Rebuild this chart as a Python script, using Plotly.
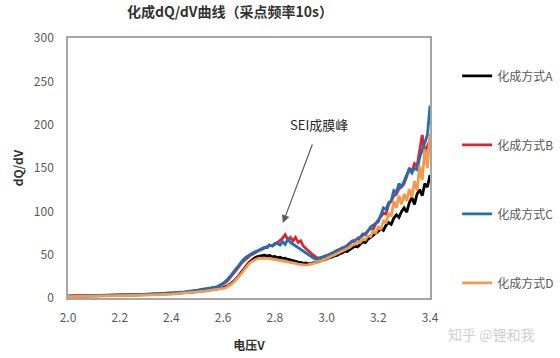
import plotly.graph_objects as go

# ---- data ----
voltage = [2.00, 2.10, 2.20, 2.30, 2.40, 2.45, 2.50, 2.53,
           2.56, 2.57, 2.58, 2.59, 2.60, 2.61, 2.62, 2.63, 2.64, 2.65,
           2.66, 2.67, 2.68, 2.69, 2.70, 2.71, 2.72, 2.73, 2.74, 2.75,
           2.76, 2.77, 2.78, 2.79, 2.80, 2.81, 2.82, 2.83, 2.84, 2.85,
           2.86, 2.87, 2.88, 2.89, 2.90, 2.91, 2.92, 2.93, 2.94, 2.95,
           2.96, 2.97, 2.98, 2.99, 3.00, 3.01, 3.02, 3.03, 3.04, 3.05,
           3.06, 3.07, 3.08, 3.09, 3.10, 3.11, 3.12, 3.13, 3.14, 3.15,
           3.16, 3.17, 3.18, 3.19, 3.20, 3.21, 3.22, 3.23, 3.24, 3.25,
           3.26, 3.27, 3.28, 3.29, 3.30, 3.31, 3.32, 3.33, 3.34, 3.35,
           3.36, 3.37, 3.38, 3.39, 3.40]

dqdv_A = [2, 2.5, 3, 3.8, 5, 6, 7.5, 8.5,
          9.5, 10, 10.5, 11, 12, 13, 14.5, 16.5, 19, 22,
          25.5, 29, 33, 37, 41, 44, 46, 47.5, 48.5, 49,
          49.5, 48.5, 49, 47.5, 48, 46.5, 47, 45.5, 46, 44.5,
          44, 43, 42.5, 41.5, 41, 40, 40.5, 39.5, 40, 40.5,
          41.5, 42, 43.5, 44, 45, 46.5, 47, 48.5, 49, 51,
          52, 54, 53.5, 56, 58, 60, 59, 62, 65, 64,
          68, 70, 72, 75, 77, 80, 78, 84, 87, 85,
          92, 96, 93, 100, 104, 99, 110, 116, 108, 120,
          125, 118, 132, 128, 142]

dqdv_B = [2, 2.6, 3.2, 4, 5.5, 6.5, 8.5, 10,
          11, 12, 13, 14.5, 16, 18, 21, 24.5, 28, 32,
          36, 40, 43, 46, 48, 50, 52, 53.5, 55, 56,
          58, 59, 61, 60, 63, 64, 66, 69, 73, 67,
          70, 66, 70, 64, 66, 60, 57, 54, 51, 49,
          47, 46, 47, 48, 49, 50, 52, 53, 55, 56,
          58, 57, 61, 63, 66, 65, 69, 70, 74, 73,
          78, 80, 79, 86, 90, 94, 98, 97, 108, 112,
          118, 120, 126, 128, 132, 140, 150, 146, 155, 152,
          172, 188, 168, 176, 182]

dqdv_C = [2.2, 2.8, 3.4, 4.3, 6, 7, 9, 10.5,
          11.5, 12.5, 13.5, 15, 17, 19.5, 22.5, 26, 30, 34,
          38, 42, 45, 47.5, 49.5, 51.5, 53, 54, 56, 57,
          58.5, 58, 61, 60, 62, 63, 61, 65, 62, 68,
          64, 62, 60, 58, 56, 54, 51, 49, 47, 46,
          45, 45.5, 46.5, 47.5, 48.5, 50, 51, 53, 54, 56,
          57, 59, 60, 63, 65, 67, 66, 70, 72, 75,
          77, 82, 84, 86, 88, 96, 104, 102, 110, 112,
          124, 122, 132, 128, 136, 142, 148, 144, 150, 148,
          162, 170, 178, 188, 222]

dqdv_D = [1.5, 2, 2.5, 3.3, 4.5, 5.5, 7, 8,
          9, 9.5, 10, 10.5, 11, 12, 13.5, 15.5, 18, 21,
          24.5, 28, 32, 36, 39.5, 42, 44, 45, 46, 46,
          46, 45.5, 45.5, 45, 44.5, 44, 43.5, 43, 42.5, 42,
          41, 40.5, 40, 39, 38.5, 38, 38, 38.5, 39, 40,
          41, 42, 43, 44, 45.5, 47, 48, 49.5, 51, 52.5,
          54, 55.5, 57, 58.5, 61, 62, 65, 64, 68, 67,
          72, 71, 77, 75, 82, 79, 90, 86, 98, 94,
          112, 104, 118, 108, 120, 112, 126, 116, 135, 124,
          152, 136, 172, 150, 190]

series_names = ["化成方式A", "化成方式B", "化成方式C", "化成方式D"]
series_values = [dqdv_A, dqdv_B, dqdv_C, dqdv_D]
series_colors = ["#000000", "#E3232B", "#1F6FB5", "#F5994A"]

x_ticks = [2.0, 2.2, 2.4, 2.6, 2.8, 3.0, 3.2, 3.4]
x_tick_labels = ["2.0", "2.2", "2.4", "2.6", "2.8", "3.0", "3.2", "3.4"]
y_ticks = [0, 50, 100, 150, 200, 250, 300]

for v in series_values:
    assert len(v) == len(voltage)

FONT = "Noto Sans CJK SC, Noto Sans, sans-serif"

fig = go.Figure()
for name, vals, col in zip(series_names, series_values, series_colors):
    fig.add_trace(go.Scatter(
        x=voltage, y=vals, mode="lines", name=name, legendgroup=name,
        line=dict(color=col, width=2.8, shape="linear"),
    ))

fig.update_layout(
    width=560, height=358,
    margin=dict(l=68, r=130, t=38, b=60, autoexpand=False),
    paper_bgcolor="white", plot_bgcolor="white",
    showlegend=True,
    title=dict(text="<b>化成dQ/dV曲线（采点频率10s）</b>",
               x=230 / 560, xanchor="center", y=1 - 7 / 358, yanchor="top",
               font=dict(family=FONT, size=14, color="#333333")),
    legend=dict(x=1.075, xanchor="left", y=0.91, yanchor="top",
                tracegroupgap=50,
                font=dict(family=FONT, size=12, color="#595959"),
                bgcolor="rgba(0,0,0,0)"),
    font=dict(family=FONT, color="#595959"),
)

fig.update_xaxes(
    range=[2.0, 3.4], tickvals=x_ticks, ticktext=x_tick_labels,
    showgrid=False, zeroline=False, showline=True, mirror=True,
    linecolor="#A6A6A6", linewidth=1.5, ticks="", ticklabelstandoff=8,
    automargin=False,
    tickfont=dict(family=FONT, size=12, color="#595959"),
    title=dict(text="<b>电压V</b>", standoff=17,
               font=dict(family=FONT, size=12, color="#333333")),
)
fig.update_yaxes(
    range=[0, 300], tickvals=y_ticks,
    showgrid=False, zeroline=False, showline=True, mirror=True,
    linecolor="#A6A6A6", linewidth=1.5, ticks="", ticklabelstandoff=10,
    automargin=False,
    tickfont=dict(family=FONT, size=12, color="#595959"),
    title=dict(text="<b>dQ/dV</b>", standoff=8,
               font=dict(family=FONT, size=12, color="#333333")),
)

# annotation arrow + label
fig.add_annotation(x=2.831, y=86.5, xref="x", yref="y", text="",
                   showarrow=True, ax=30, ay=-80, axref="pixel", ayref="pixel",
                   arrowhead=2, arrowsize=1.3, arrowwidth=1.2, arrowcolor="#595959")
fig.add_annotation(x=2.97, y=200, xref="x", yref="y", text="SEI成膜峰",
                   showarrow=False, font=dict(family=FONT, size=13, color="#262626"))

# watermark
fig.add_annotation(x=(446 - 68) / 362, y=(298 - 334) / 260, xref="paper", yref="paper",
                   xanchor="left", yanchor="middle",
                   text="知乎 @锂和我", showarrow=False,
                   font=dict(family=FONT, size=14, color="#CFCFCF"))

fig.write_html("out.html",
               config={"displayModeBar": False},
               post_script="document.body.style.margin='0';document.body.style.padding='0';")
